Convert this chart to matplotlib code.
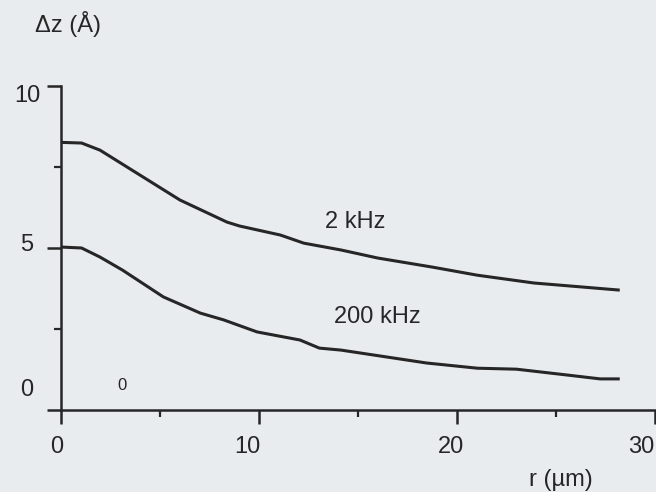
import numpy as np
import matplotlib.pyplot as plt

# values
r_2k = [0, 1.04, 1.97, 3.99, 6.01, 8.38, 9.01, 11.08, 12.26, 14.13, 16.0, 18.76, 21.03, 23.88, 28.22]
dz_2k = [8.26, 8.24, 8.02, 7.25, 6.48, 5.80, 5.68, 5.40, 5.15, 4.94, 4.69, 4.41, 4.16, 3.92, 3.70]

r_200k = [0, 1.04, 1.97, 3.10, 5.17, 7.04, 8.22, 9.90, 12.07, 13.05, 14.13, 18.47, 21.03, 23.0, 25.56, 27.23, 28.22]
dz_200k = [5.03, 5.00, 4.72, 4.32, 3.49, 2.99, 2.78, 2.41, 2.16, 1.91, 1.85, 1.45, 1.29, 1.26, 1.08, 0.96, 0.96]

x_ticks = [0, 10, 20, 30]
y_ticks = [0, 5, 10]

# label nudges (pixels) as in the scanned original
x_lab_dx = [-4, -12, -6, -14]
y_lab_dy = [20, 3, -10]

bg = '#e9ecef'
ink = '#262626'

plt.rcParams['font.family'] = ['Liberation Sans', 'DejaVu Sans']

fig = plt.figure(figsize=(6.56, 4.92), dpi=100, facecolor=bg)
ax = fig.add_axes([61 / 656, (492 - 410) / 492, 595 / 656, 324 / 492])
ax.set_facecolor(bg)

ax.plot(r_2k, dz_2k, color=ink, lw=2.2, solid_capstyle='butt')
ax.plot(r_200k, dz_200k, color=ink, lw=2.2, solid_capstyle='butt')

ax.set_xlim(0, 30.05)
ax.set_ylim(0, 10)
for s in ['top', 'right']:
    ax.spines[s].set_visible(False)
for s in ['left', 'bottom']:
    ax.spines[s].set_color(ink)
    ax.spines[s].set_linewidth(1.8)
ax.spines['left'].set_bounds(0, 10)

ax.set_xticks(x_ticks)
ax.set_xticks([5, 15, 25], minor=True)
ax.set_yticks(y_ticks)
ax.set_yticks([2.5, 7.5], minor=True)
ax.tick_params(which='major', direction='out', length=10, width=1.8, color=ink,
               labelbottom=False, labelleft=False)
ax.tick_params(which='minor', direction='out', length=5, width=1.6, color=ink)

for t, dx in zip(x_ticks, x_lab_dx):
    ax.annotate(str(t), xy=(t, 0), xycoords=('data', 'axes fraction'),
                xytext=(dx, -37), textcoords='offset pixels',
                ha='center', va='center', fontsize=17, color=ink,
                annotation_clip=False)
for t, dy in zip(y_ticks, y_lab_dy):
    ax.annotate(str(t), xy=(0, t), xycoords=('axes fraction', 'data'),
                xytext=(-34, dy), textcoords='offset pixels',
                ha='center', va='center', fontsize=17, color=ink,
                annotation_clip=False)

ax.text(14.85, 5.80, '2 kHz', fontsize=17, color=ink, ha='center', va='center')
ax.text(16.0, 2.87, '200 kHz', fontsize=17, color=ink, ha='center', va='center')
ax.text(3.08, 0.77, '0', fontsize=12, color=ink, ha='center', va='center')

fig.text(68 / 656, 1 - 24 / 492, '\u0394z (\u00c5)', fontsize=17, color=ink,
         ha='center', va='center')
fig.text(561 / 656, 1 - 480 / 492, 'r (\u00b5m)', fontsize=17, color=ink,
         ha='center', va='center')

fig.savefig('out.png', dpi=100, facecolor=bg)
